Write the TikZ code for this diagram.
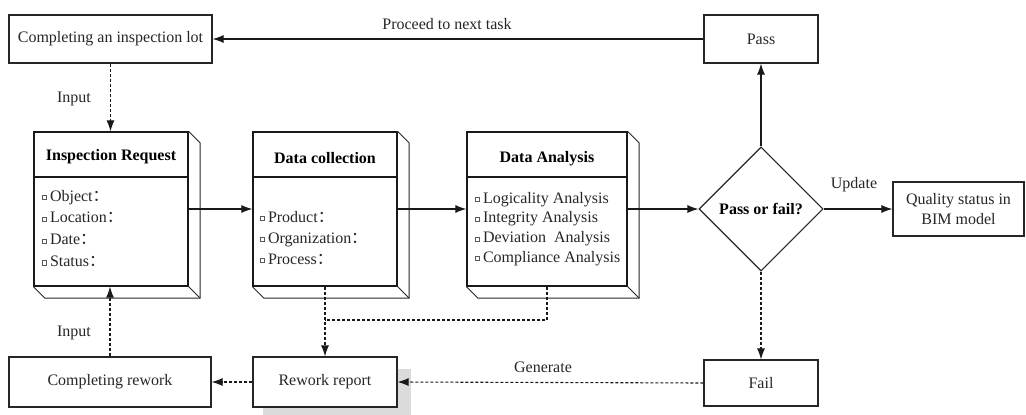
\documentclass[tikz,border=0pt]{standalone}
\usepackage{fontspec}
\setmainfont{Liberation Serif}
\newfontfamily\cjk{Noto Sans CJK SC}
\usetikzlibrary{shapes.geometric,arrows.meta,calc}

\newcommand\bsq{{\color{black!65}\fboxsep=0pt\fboxrule=0.6pt\raisebox{1.8pt}{\fbox{\rule{0pt}{3.6pt}\hspace{3.6pt}}}}\hspace{3pt}}
\newcommand\fcolon{{\cjk ：}}

\begin{document}
\begin{tikzpicture}[x=1pt,y=-1pt,
  every node/.style={font=\fontsize{16}{19}\selectfont, text=black!85},
  box/.style={draw=black!85, line width=1.1pt, inner sep=0pt, align=center, fill=white},
  front/.style={draw=black!90, line width=1.3pt, inner sep=0pt},
  side/.style={draw=black!85, line width=0.9pt, line join=miter},
  solidarrow/.style={draw=black!90, line width=1.1pt, -{Latex[length=11pt,width=8pt]}},
  dasharrow/.style={draw=black!90, line width=1.1pt, dash pattern=on 3pt off 2pt, -{Latex[length=11pt,width=8pt]}},
  dashline/.style={draw=black!90, line width=1.1pt, dash pattern=on 3pt off 2pt},
  title/.style={font=\fontsize{16}{19}\selectfont\bfseries, text=black},
  lbl/.style={inner sep=0pt},
  items/.style={inner sep=0pt, anchor=west, align=left},
]
\useasboundingbox (0,0) rectangle (1026,415);

% top row
\node[box, minimum width=203, minimum height=48] (lot) at (110.5,39) {Completing an inspection lot};
\node[box, minimum width=114, minimum height=48] (pass) at (761,39) {Pass};
\node[lbl] (proceed) at (447,24) {Proceed to next task};

% 3D boxes (front faces)
\node[front, minimum width=154, minimum height=154] (ir) at (111,209) {};
\node[front, minimum width=144, minimum height=154] (dc) at (325,209) {};
\node[front, minimum width=160, minimum height=154] (da) at (547,209) {};
\foreach \n in {ir,dc,da} {
  \draw[side] (\n.north east) -- ++(11.5,11.5) |- ([shift={(11.5,11.5)}]\n.south west) -- (\n.south west);
  \draw[side] (\n.south east) -- ++(11.5,11.5);
  \draw[front] (\n.west |- 0,177) -- (\n.east |- 0,177);
}
\node[title] (irt) at (111,157) {Inspection Request};
\node[title] (dct) at (325,158) {Data collection};
\node[title] (dat) at (547,159) {Data Analysis};

\node[items, font=\fontsize{16}{21.7}\selectfont] (iri) at (42,229.5)
  {\strut\bsq Object\fcolon\\\strut\bsq Location\fcolon\\\strut\bsq Date\fcolon\\\strut\bsq Status\fcolon};
\node[items, font=\fontsize{16}{21}\selectfont] (dci) at (260,239)
  {\strut\bsq Product\fcolon\\\strut\bsq Organization\fcolon\\\strut\bsq Process\fcolon};
\node[items, font=\fontsize{16}{19.7}\selectfont] (dai) at (475,228.75)
  {\strut\bsq Logicality Analysis\\\strut\bsq Integrity Analysis\\\strut\bsq Deviation\ \ Analysis\\\strut\bsq Compliance Analysis};

% decision and right side
\node[diamond, draw=black!85, line width=1.1pt, minimum width=124, minimum height=124, inner sep=0pt, title] (dec) at (761,209) {Pass or fail?};
\node[box, minimum width=131, minimum height=54, font=\fontsize{16}{20}\selectfont] (qual) at (958.5,209) {Quality status in\\BIM model};
\node[box, minimum width=114, minimum height=46] (fail) at (761,383) {Fail};

% bottom row
\fill[black!14] (263,369) rectangle (411,415);
\node[box, minimum width=202, minimum height=50] (cr) at (110,382) {Completing rework};
\node[box, minimum width=144, minimum height=50] (rr) at (325,382) {\raisebox{5pt}{Rework report}};

% labels
\node[lbl] (in1) at (74,99) {Input};
\node[lbl] (in2) at (74,333) {Input};
\node[lbl] (upd) at (854,185) {Update};
\node[lbl] (gen) at (543,367) {Generate};

% connectors
\draw[solidarrow] (pass.west) -- (lot.east);
\draw[dasharrow] (lot.south) -- (lot.south |- ir.north);
\draw[dasharrow] (cr.north) -- (cr.north |- ir.south);
\draw[solidarrow] (ir.east) -- (dc.west);
\draw[solidarrow] (dc.east) -- (da.west);
\draw[solidarrow] (da.east) -- (dec.west);
\draw[solidarrow] (dec.east) -- (qual.west);
\draw[solidarrow] (dec.north) -- (pass.south);
\draw[dasharrow] (dec.south) -- (fail.north);
\draw[dasharrow] (fail.west) -- (rr.east);
\draw[dasharrow] (rr.west) -- (cr.east);
\coordinate (j) at (325,320);
\draw[dasharrow] (dc.south) -- (rr.north);
\draw[dashline] (da.south) |- (j);
\end{tikzpicture}
\end{document}
